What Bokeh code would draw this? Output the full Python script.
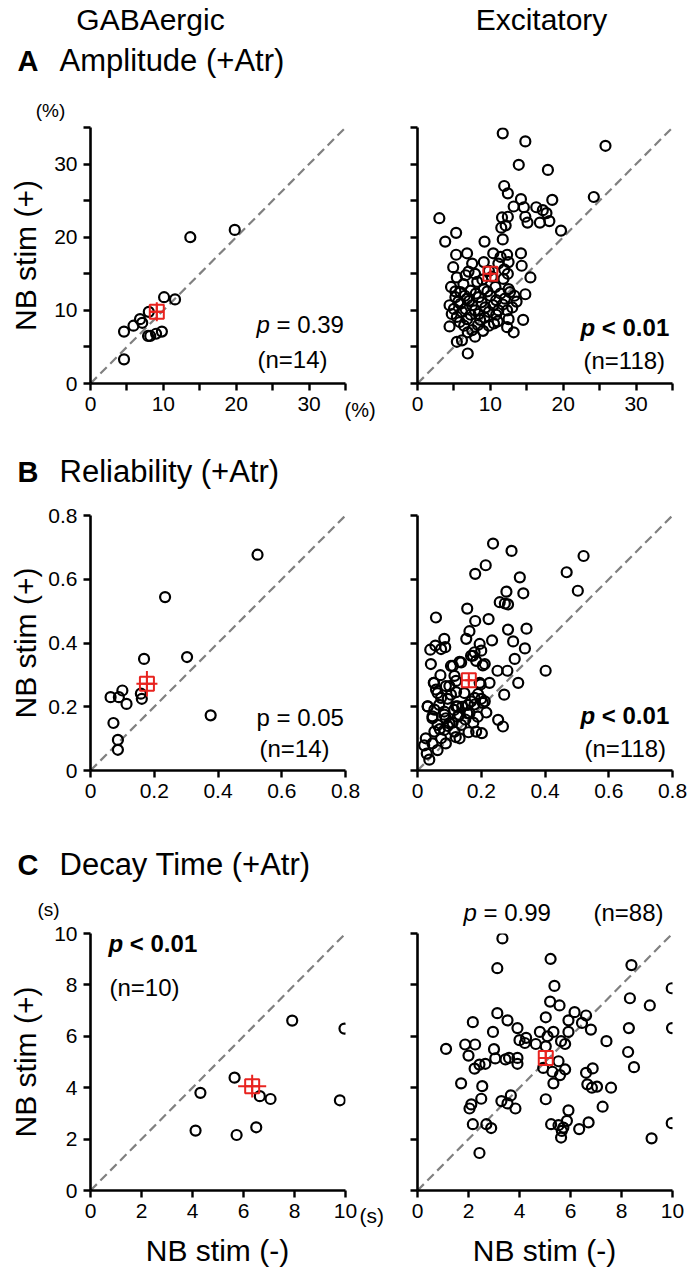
import math
from bokeh.plotting import figure
from bokeh.models import Range1d, FixedTicker, Label, GridBox
from bokeh.layouts import column, row
from bokeh.embed import file_html
from bokeh.resources import INLINE

FONT = "Liberation Sans"
RED = "#e8231f"

# ---------------- data ----------------
col_titles = ["GABAergic", "Excitatory"]
row_titles = ["Amplitude (+Atr)", "Reliability (+Atr)", "Decay Time (+Atr)"]
row_letters = ["A", "B", "C"]

# A: amplitude (%)
amp_lim = 35
amp_ticks = [0, 5, 10, 15, 20, 25, 30, 35]
amp_tick_labels = ["0", "", "10", "", "20", "", "30", ""]
amp_gaba_x = [4.6, 4.6, 5.9, 6.8, 7.1, 8.0, 7.9, 8.2, 9.0, 9.8, 10.1, 11.6, 13.7, 19.8]
amp_gaba_y = [7.1, 3.3, 7.9, 8.8, 8.3, 9.8, 6.5, 6.5, 6.8, 7.1, 11.8, 11.5, 20.0, 21.0]
amp_gaba_mean = [9.1, 9.8]
amp_gaba_sem = [1.0, 1.3]
amp_exc_x = [11.7, 14.8, 25.8, 13.9, 17.9, 11.9, 12.4, 24.2, 14.2, 18.5,
             13.2, 14.6, 16.3, 17.2, 17.7, 3.0, 11.6, 12.4, 14.8, 15.1,
             16.8, 18.1, 19.7, 11.5, 12.1, 5.3, 3.8, 9.2, 11.7,
             5.3, 6.8, 10.4, 11.4, 12.3, 14.2,
             4.9, 7.5, 9.1, 11.1, 12.5, 14.3,
             5.4, 7.9, 12.4, 15.5,
             4.6, 6.3, 8.2, 11.8,
             5.9, 7.3, 9.1, 10.7, 12.5, 14.8,
             5.2, 6.8, 8.4, 10.0, 11.4, 12.7,
             4.4, 5.9, 7.5, 8.8, 10.4,
             4.7, 6.1, 7.9, 9.8, 11.1, 12.3,
             5.4, 6.8, 8.6, 12.5, 14.5,
             4.4, 6.4, 7.5, 9.8, 12.3,
             7.9, 13.2, 5.4, 6.1, 6.9,
             6.6, 8.9, 10.2, 7.0, 11.9, 9.8,
             6.5, 8.0, 9.6, 10.8, 12.0, 13.3,
             5.6, 7.1, 9.3, 10.8, 11.7, 13.0,
             5.0, 6.6, 8.4, 9.2, 7.3, 11.0,
             5.8, 8.3, 10.5, 6.9, 9.0, 13.6, 5.2]
amp_exc_y = [34.2, 33.1, 32.5, 29.9, 29.2, 27.0, 26.0, 25.5, 25.2, 25.1,
             24.2, 24.1, 24.1, 23.7, 23.3, 22.6, 22.7, 22.8, 22.8, 22.0,
             22.0, 22.2, 20.9, 21.3, 21.6, 20.6, 19.4, 19.4, 19.7,
             17.6, 17.8, 17.8, 17.3, 17.6, 17.8,
             15.9, 16.4, 16.6, 16.4, 16.6, 16.1,
             14.5, 15.0, 15.0, 14.5,
             13.2, 13.6, 13.9, 14.3,
             12.5, 12.7, 12.9, 13.2, 12.9, 12.2,
             11.8, 11.6, 11.8, 12.0, 12.3, 12.5,
             10.7, 10.9, 10.7, 11.1, 10.7,
             9.5, 9.8, 10.0, 9.8, 10.0, 10.0,
             9.1, 8.8, 8.7, 8.8, 8.7,
             7.8, 7.9, 7.3, 7.9, 7.7,
             6.4, 7.0, 5.7, 5.9, 4.1,
             14.8, 14.2, 14.6, 15.3, 15.6, 15.4,
             12.0, 12.3, 12.6, 11.4, 11.6, 12.0,
             11.2, 11.3, 10.4, 9.4, 10.8, 10.4,
             10.2, 10.2, 9.5, 9.0, 9.4, 8.5,
             8.4, 8.0, 8.2, 7.0, 7.2, 11.2, 12.6]
amp_exc_mean = [10.0, 15.0]
amp_exc_sem = [0.45, 0.6]

# B: reliability
rel_lim = 0.8
rel_ticks = [0, 0.2, 0.4, 0.6, 0.8]
rel_tick_labels = ["0", "0.2", "0.4", "0.6", "0.8"]
rel_gaba_x = [0.524, 0.234, 0.168, 0.303, 0.063, 0.100, 0.089, 0.113, 0.158, 0.161, 0.072, 0.377, 0.086, 0.086]
rel_gaba_y = [0.677, 0.544, 0.350, 0.356, 0.230, 0.251, 0.230, 0.209, 0.241, 0.225, 0.149, 0.173, 0.096, 0.065]
rel_gaba_mean = [0.177, 0.272]
rel_gaba_sem = [0.033, 0.040]
rel_exc_x = [0.237, 0.295, 0.521, 0.214, 0.181, 0.468, 0.321, 0.503, 0.279, 0.332,
             0.258, 0.274, 0.284, 0.156, 0.058, 0.181, 0.223, 0.163, 0.284, 0.342,
             0.153, 0.234, 0.300, 0.084, 0.056, 0.040, 0.074, 0.087, 0.195, 0.337,
             0.179, 0.200, 0.305, 0.042, 0.105, 0.132, 0.211, 0.168, 0.072, 0.251,
             0.282, 0.402, 0.051, 0.116, 0.226, 0.316, 0.058, 0.100, 0.195, 0.272,
             0.074, 0.121, 0.168, 0.200, 0.032, 0.053, 0.084, 0.126, 0.179, 0.211,
             0.047, 0.089, 0.126, 0.156, 0.189, 0.216, 0.253, 0.268, 0.063, 0.100,
             0.137, 0.184, 0.202, 0.053, 0.084, 0.116, 0.026, 0.074, 0.132, 0.021,
             0.047, 0.089, 0.029, 0.063, 0.037,
             0.095, 0.115, 0.140, 0.150, 0.175, 0.070, 0.095, 0.120, 0.160, 0.190,
             0.111, 0.137, 0.174, 0.184, 0.205, 0.052, 0.089, 0.121, 0.198, 0.063,
             0.105, 0.147, 0.179, 0.032, 0.068, 0.121, 0.158, 0.205, 0.047, 0.084,
             0.131, 0.163, 0.110]
rel_exc_y = [0.712, 0.689, 0.673, 0.644, 0.617, 0.622, 0.606, 0.564, 0.561, 0.556,
             0.528, 0.524, 0.521, 0.508, 0.480, 0.469, 0.475, 0.437, 0.442, 0.445,
             0.413, 0.408, 0.405, 0.413, 0.392, 0.379, 0.381, 0.387, 0.397, 0.383,
             0.371, 0.376, 0.350, 0.334, 0.328, 0.341, 0.334, 0.360, 0.299, 0.313,
             0.313, 0.313, 0.275, 0.297, 0.275, 0.275, 0.254, 0.265, 0.275, 0.238,
             0.228, 0.246, 0.217, 0.225, 0.201, 0.191, 0.185, 0.201, 0.207, 0.217,
             0.164, 0.164, 0.169, 0.180, 0.169, 0.182, 0.159, 0.138, 0.143, 0.148,
             0.143, 0.122, 0.117, 0.122, 0.127, 0.122, 0.101, 0.101, 0.101, 0.079,
             0.085, 0.085, 0.053, 0.064, 0.034,
             0.225, 0.190, 0.200, 0.160, 0.150, 0.130, 0.140, 0.105, 0.120, 0.240,
             0.328, 0.339, 0.360, 0.344, 0.330, 0.275, 0.265, 0.281, 0.270, 0.243,
             0.238, 0.243, 0.228, 0.201, 0.206, 0.201, 0.206, 0.212, 0.170, 0.175,
             0.175, 0.180, 0.150]
rel_exc_mean = [0.161, 0.283]
rel_exc_sem = [0.011, 0.013]

# C: decay time (s)
dec_lim = 10
dec_ticks = [0, 2, 4, 6, 8, 10]
dec_tick_labels = ["0", "2", "4", "6", "8", "10"]
dec_gaba_x = [7.91, 9.96, 5.65, 4.31, 6.64, 7.06, 9.78, 4.12, 5.73, 6.50]
dec_gaba_y = [6.61, 6.30, 4.39, 3.80, 3.67, 3.56, 3.51, 2.33, 2.16, 2.46]
dec_gaba_mean = [6.34, 4.06]
dec_gaba_sem = [0.55, 0.44]
dec_exc_x = [3.33, 5.22, 3.13, 8.39, 5.37, 9.97, 5.20, 5.57, 8.33, 9.11,
             3.13, 6.16, 6.61, 2.17, 3.53, 5.03, 5.92, 6.45, 3.92, 6.80,
             8.29, 9.98, 2.96, 4.80, 5.33, 5.92, 4.00, 4.26, 5.63, 7.41,
             1.12, 1.87, 2.26, 4.64, 4.21, 5.03, 5.79, 2.00, 8.26, 3.05,
             3.45, 3.59, 3.92, 2.43, 2.66, 3.92, 2.24, 5.53, 8.49, 4.93,
             5.79, 5.29, 5.59, 6.61, 6.87, 1.71, 2.54, 5.33, 6.66, 6.84,
             7.04, 7.59, 2.50, 2.11, 2.04, 3.29, 3.66, 3.53, 3.84, 5.03,
             7.26, 5.92, 2.17, 2.70, 2.89, 5.24, 5.53, 5.72, 5.86, 5.66,
             5.63, 6.34, 6.71, 9.97, 9.18, 2.43, 3.00, 5.10]
dec_exc_y = [9.81, 9.01, 8.65, 8.77, 7.96, 7.87, 7.35, 7.20, 7.48, 7.20,
             6.90, 6.94, 6.81, 6.55, 6.62, 6.74, 6.62, 6.52, 6.32, 6.26,
             6.32, 6.32, 6.17, 6.17, 6.17, 6.17, 5.85, 5.94, 5.81, 5.81,
             5.51, 5.68, 5.68, 5.70, 5.74, 5.61, 5.70, 5.25, 5.39, 5.14,
             5.10, 5.16, 5.16, 4.90, 4.93, 4.93, 4.74, 5.03, 4.80, 4.77,
             4.71, 4.62, 4.49, 4.58, 4.75, 4.17, 4.06, 4.17, 4.13, 4.00,
             4.04, 4.00, 3.57, 3.35, 3.19, 3.48, 3.70, 3.39, 3.19, 3.55,
             3.26, 3.12, 2.58, 2.58, 2.43, 2.58, 2.54, 2.45, 2.71, 2.32,
             2.06, 2.39, 2.65, 2.62, 2.03, 1.46, 5.50, 6.00]
dec_exc_mean = [5.03, 5.16]
dec_exc_sem = [0.2, 0.2]

stats_text = [["p = 0.39", "(n=14)"], ["p < 0.01", "(n=118)"],
              ["p = 0.05", "(n=14)"], ["p < 0.01", "(n=118)"],
              ["p < 0.01", "(n=10)"], ["p = 0.99", "(n=88)"]]

# ---------------- geometry (page pixels) ----------------
PAGE_W, PAGE_H = 689, 1280
FW = 255
COLS = [dict(fl=90, bl=90, br=45), dict(fl=417, bl=27, br=17)]
ROWS = [dict(ct=0, top=127, bottom=383, cb=440),
        dict(ct=440, top=515, bottom=770, cb=825),
        dict(ct=825, top=933, bottom=1190, cb=1280)]


def panel(ci, ri, xs, ys, mean, sem, lim, ticks, tick_labels):
    c, r = COLS[ci], ROWS[ri]
    fh = r["bottom"] - r["top"]
    p = figure(frame_width=FW, frame_height=fh,
               min_border_left=c["bl"], min_border_right=c["br"],
               min_border_top=r["top"] - r["ct"], min_border_bottom=r["cb"] - r["bottom"],
               x_range=Range1d(0, lim), y_range=Range1d(0, lim),
               toolbar_location=None, output_backend="svg", title=None)
    p.xgrid.visible = False
    p.ygrid.visible = False
    p.outline_line_color = None
    p.background_fill_color = "white"
    p.border_fill_color = "white"
    for ax, show in ((p.xaxis[0], True), (p.yaxis[0], ci == 0)):
        ax.ticker = FixedTicker(ticks=ticks, minor_ticks=[])
        ax.major_label_overrides = {t: (l if show else "") for t, l in zip(ticks, tick_labels)}
        ax.axis_line_width = 2.6
        ax.axis_line_color = "black"
        ax.major_tick_line_width = 2.4
        ax.major_tick_line_color = "black"
        ax.major_tick_out = 7
        ax.major_tick_in = 0
        ax.minor_tick_out = 0
        ax.minor_tick_in = 0
        ax.major_label_text_font = FONT
        ax.major_label_text_font_size = "21px"
        ax.major_label_text_color = "black"
        ax.major_label_standoff = 6
    p.line([0, lim], [0, lim], line_color="#808080", line_width=2.2, line_dash="9 5")
    p.scatter(xs, ys, marker="circle", size=10, fill_color=None, line_color="black", line_width=2.2)
    mx, my = mean
    sx, sy = sem
    p.segment(x0=[mx - sx, mx], y0=[my, my - sy], x1=[mx + sx, mx], y1=[my, my + sy],
              line_color=RED, line_width=2)
    p.scatter([mx], [my], marker="square_cross", size=14, fill_color=None, line_color=RED, line_width=2)
    return p


pa1 = panel(0, 0, amp_gaba_x, amp_gaba_y, amp_gaba_mean, amp_gaba_sem, amp_lim, amp_ticks, amp_tick_labels)
pa2 = panel(1, 0, amp_exc_x, amp_exc_y, amp_exc_mean, amp_exc_sem, amp_lim, amp_ticks, amp_tick_labels)
pb1 = panel(0, 1, rel_gaba_x, rel_gaba_y, rel_gaba_mean, rel_gaba_sem, rel_lim, rel_ticks, rel_tick_labels)
pb2 = panel(1, 1, rel_exc_x, rel_exc_y, rel_exc_mean, rel_exc_sem, rel_lim, rel_ticks, rel_tick_labels)
pc1 = panel(0, 2, dec_gaba_x, dec_gaba_y, dec_gaba_mean, dec_gaba_sem, dec_lim, dec_ticks, dec_tick_labels)
pc2 = panel(1, 2, dec_exc_x, dec_exc_y, dec_exc_mean, dec_exc_sem, dec_lim, dec_ticks, dec_tick_labels)

panels = column(row(pa1, pa2), row(pb1, pb2), row(pc1, pc2))

# ---------------- transparent text overlay (page-pixel coordinates) ----------------
ov = figure(frame_width=PAGE_W, frame_height=PAGE_H, min_border=0,
            x_range=Range1d(0, PAGE_W), y_range=Range1d(PAGE_H, 0),
            x_axis_type=None, y_axis_type=None, toolbar_location=None,
            output_backend="svg", title=None)
ov.xgrid.visible = False
ov.ygrid.visible = False
ov.outline_line_color = None
ov.background_fill_color = None
ov.border_fill_color = None
ov.background_fill_alpha = 0
ov.border_fill_alpha = 0


def lab(X, Y, text, size, align="left", style="normal", angle=0.0):
    ov.add_layout(Label(x=X, y=Y, text=text, text_font=FONT, text_font_size=f"{size}px",
                        text_align=align, text_baseline="middle", text_font_style=style,
                        angle=angle, text_color="black"))


def ptext(X, Y, text, size, bold, italic_p=True):
    if not italic_p:
        lab(X, Y, text, size, style="bold" if bold else "normal")
        return
    pw = (0.611 if bold else 0.556) + 0.278
    lab(X, Y, "p", size, style="bold italic" if bold else "italic")
    lab(X + pw * size, Y, text[2:], size, style="bold" if bold else "normal")


# column titles
lab(150, 19, col_titles[0], 30, align="center")
lab(541, 19, col_titles[1], 30, align="center")

# row titles
for Y, i in ((60, 0), (471, 1), (864, 2)):
    lab(17, Y, row_letters[i], 29, style="bold")
    lab(59, Y, row_titles[i], 31)

# axis titles
for r in ROWS:
    lab(25, (r["top"] + r["bottom"]) / 2, "NB stim (+)", 30, align="center", angle=math.pi / 2)
lab(217, 1250, "NB stim (-)", 30, align="center")
lab(544, 1250, "NB stim (-)", 30, align="center")

# units
lab(50, 110, "(%)", 19, align="center")
lab(344, 409, "(%)", 20)
lab(48, 909, "(s)", 19, align="center")
lab(359, 1215, "(s)", 21)

# stats
ptext(256, 324, stats_text[0][0], 24, bold=False)
lab(257, 359, stats_text[0][1], 24)
ptext(580, 327, stats_text[1][0], 24, bold=True)
lab(583, 360, stats_text[1][1], 24)
ptext(256, 717, stats_text[2][0], 24, bold=False, italic_p=False)
lab(259, 748, stats_text[2][1], 24)
ptext(580, 715, stats_text[3][0], 24, bold=True)
lab(584, 748, stats_text[3][1], 24)
ptext(108, 943, stats_text[4][0], 24, bold=True)
lab(109, 987, stats_text[4][1], 24)
ptext(463, 912, stats_text[5][0], 24, bold=False)
lab(593, 912, stats_text[5][1], 24)

layout = GridBox(children=[(panels, 0, 0), (ov, 0, 0)])
open("out.html", "w").write(file_html(layout, INLINE))
